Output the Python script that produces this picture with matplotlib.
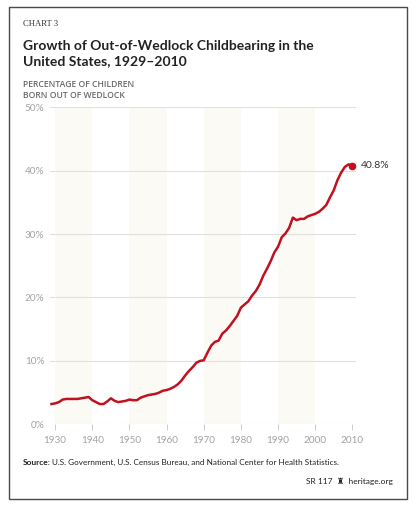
import matplotlib
matplotlib.use("Agg")
import matplotlib.pyplot as plt
from matplotlib.patches import Rectangle

# ------------------------------------------------------------------
# Data
# ------------------------------------------------------------------
years = list(range(1929, 2011))
pct = [
    3.2, 3.3, 3.5, 3.9, 4.0, 4.0, 4.0, 4.0, 4.1, 4.2,   # 1929-1938
    4.3, 3.8, 3.5, 3.2, 3.2, 3.6, 4.1, 3.7, 3.5, 3.6,   # 1939-1948
    3.7, 3.9, 3.8, 3.8, 4.2, 4.4, 4.6, 4.7, 4.8, 5.0,   # 1949-1958
    5.3, 5.4, 5.6, 5.9, 6.3, 6.9, 7.7, 8.4, 9.0, 9.7,   # 1959-1968
    10.0, 10.1, 11.3, 12.4, 13.0, 13.2, 14.3, 14.8, 15.5, 16.3,  # 1969-1978
    17.1, 18.4, 18.9, 19.4, 20.3, 21.0, 22.0, 23.4, 24.5, 25.7,  # 1979-1988
    27.1, 28.0, 29.5, 30.1, 31.0, 32.6, 32.2, 32.4, 32.4, 32.8,  # 1989-1998
    33.0, 33.2, 33.5, 34.0, 34.6, 35.8, 36.9, 38.5, 39.7, 40.6,  # 1999-2008
    41.0, 40.8,                                                  # 2009-2010
]
x_ticks = [1930, 1940, 1950, 1960, 1970, 1980, 1990, 2000, 2010]
y_ticks = [0, 10, 20, 30, 40, 50]
y_labels = ["0%", "10%", "20%", "30%", "40%", "50%"]
bands = [(1930, 1940), (1950, 1960), (1970, 1980), (1990, 2000)]

W, H = 415, 505
RED = "#c0111f"
GRAY = "#a3a3a3"


def fx(x):
    return x / W


def fy(y):
    return 1 - y / H


fig = plt.figure(figsize=(W / 100, H / 100), dpi=100)
fig.patch.set_facecolor("white")

# outer frame
fig.add_artist(Rectangle((fx(9), fy(499)), fx(407) - fx(9), fy(7) - fy(499),
                         transform=fig.transFigure, fill=False,
                         edgecolor="#4a4a4a", linewidth=1.0))

# axes placed in pixel terms
ax = fig.add_axes([fx(50), fy(424.3), fx(356) - fx(50), fy(107.3) - fy(424.3)])
ax.set_xlim(1928.6, 2011.0)
ax.set_ylim(0, 50)

for a, b in bands:
    ax.axvspan(a, b, color="#fbfaf4", zorder=0, lw=0)

for v in y_ticks:
    ax.axhline(v, color="#e0e0e0", lw=0.8, zorder=1)

ax.plot(years, pct, color=RED, lw=1.8, zorder=3, clip_on=False,
        solid_joinstyle="round")
ax.plot([years[-1]], [pct[-1]], "o", color=RED, ms=4.5, zorder=4, clip_on=False)
ax.annotate(f"{pct[-1]}%", (years[-1], pct[-1]), xytext=(6, 0),
            textcoords="offset points", va="center", ha="left",
            fontsize=7.5, color="#333333", family="Lato")

for s in ax.spines.values():
    s.set_visible(False)
ax.set_facecolor("none")

ax.set_xticks(x_ticks)
ax.set_xticklabels([str(t) for t in x_ticks], family="Lato", fontsize=7.2, color=GRAY)
ax.tick_params(axis="x", direction="out", length=4.5, width=0.7, color="#cccccc", pad=4)
ax.set_yticks(y_ticks)
ax.set_yticklabels(y_labels, family="Lato", fontsize=7.2, color=GRAY)
ax.tick_params(axis="y", length=0, pad=4)

# header
fig.text(fx(23), fy(26), "CHART 3", family="Liberation Serif", fontsize=6.2,
         color="#333333", va="baseline")
fig.text(fx(23), fy(50), "Growth of Out-of-Wedlock Childbearing in the",
         family="Lato", weight="bold", fontsize=10, color="#222222", va="baseline")
fig.text(fx(23), fy(65.5), "United States, 1929\u20132010",
         family="Lato", weight="bold", fontsize=10, color="#222222", va="baseline")
fig.text(fx(23), fy(87), "PERCENTAGE OF CHILDREN", family="Open Sans", weight="semibold",
         fontsize=6.2, color="#6a6a6a", va="baseline")
fig.text(fx(23), fy(98), "BORN OUT OF WEDLOCK", family="Open Sans", weight="semibold",
         fontsize=6.2, color="#6a6a6a", va="baseline")

# source line, bold lead-in then regular text
src_bold = fig.text(fx(23), fy(465), "Source:", family="Lato", weight="bold",
                    fontsize=6.0, color="#222222", va="baseline")
fig.canvas.draw()
bb = src_bold.get_window_extent()
fig.text(bb.x1 / W + 0.0025, fy(465),
         "U.S. Government, U.S. Census Bureau, and National Center for Health Statistics.",
         family="Lato", fontsize=5.9, color="#222222", va="baseline")

fig.text(fx(393), fy(484), "SR 117  \u265c  heritage.org", family=["Lato", "DejaVu Sans"],
         fontsize=6.0, color="#222222", va="baseline", ha="right")

fig.savefig("out.png", dpi=100)
